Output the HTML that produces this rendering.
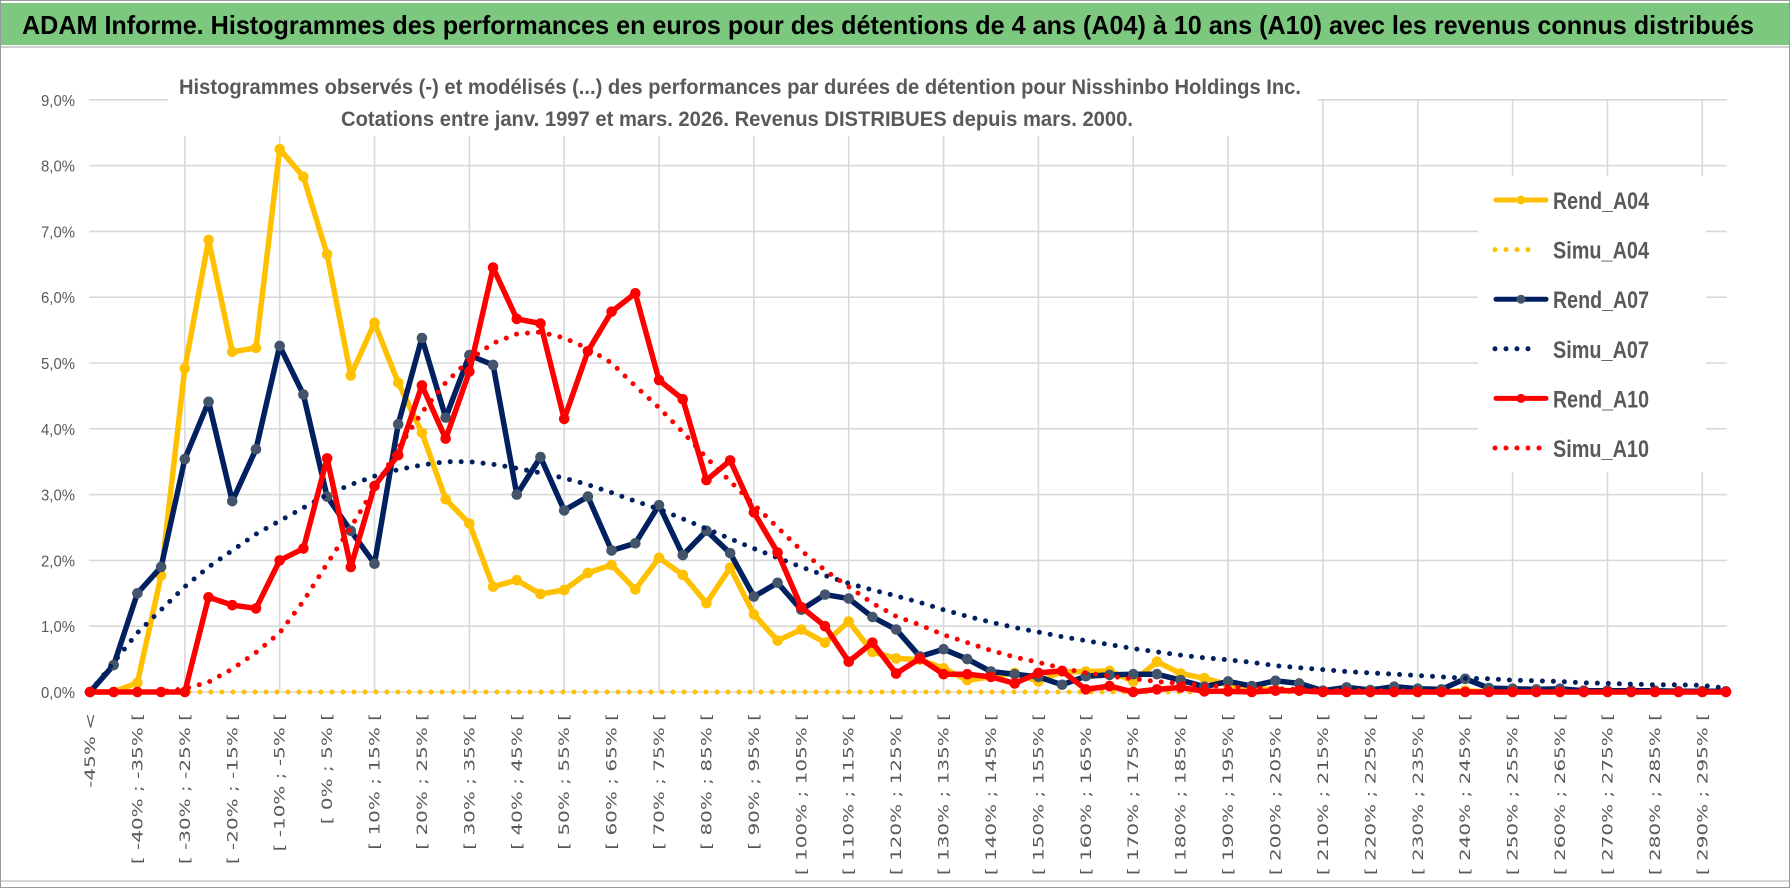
<!DOCTYPE html>
<html><head><meta charset="utf-8">
<style>
html,body{margin:0;padding:0;background:#fff;width:1790px;height:888px;overflow:hidden}
svg{display:block}
</style></head>
<body>
<svg id="chart" width="1790" height="888" viewBox="0 0 1790 888" xmlns="http://www.w3.org/2000/svg">
  <rect x="0.5" y="0.5" width="1789" height="887" fill="#fff" stroke="#9a9a9a"/>
  <rect x="1" y="3" width="1788" height="42" fill="#7dc87f"/>
  <line x1="1" y1="47" x2="1789" y2="47" stroke="#d0d0d0" stroke-width="2"/>
  <text x="22" y="34" font-family="Liberation Sans, sans-serif" font-weight="bold" font-size="26" fill="#000" textLength="1732" lengthAdjust="spacingAndGlyphs">ADAM Informe. Histogrammes des performances en euros pour des détentions de 4 ans (A04) à 10 ans (A10) avec les revenus connus distribués</text>
  <line x1="1" y1="881" x2="1789" y2="881" stroke="#d6d6d6" stroke-width="2"/>
  <g id="grid"></g>
  <rect x="168" y="64" width="1150" height="72" fill="#fff"/>
  <text x="740" y="94" text-anchor="middle" font-family="Liberation Sans, sans-serif" font-weight="bold" font-size="21" fill="#595959" textLength="1122" lengthAdjust="spacingAndGlyphs">Histogrammes observés (-) et modélisés (...) des performances par durées de détention pour Nisshinbo Holdings Inc.</text>
  <text x="737" y="126" text-anchor="middle" font-family="Liberation Sans, sans-serif" font-weight="bold" font-size="21" fill="#595959" textLength="792" lengthAdjust="spacingAndGlyphs">Cotations entre janv. 1997 et mars. 2026. Revenus DISTRIBUES depuis mars. 2000.</text>
  <g id="yaxis"></g>
  <g id="xaxis"></g>
  <g id="series"></g>
  <g id="legend"></g>
</svg>
<script>
const categories = ["-45% <","[ -45% ; -40% [","[ -40% ; -35% [","[ -35% ; -30% [","[ -30% ; -25% [","[ -25% ; -20% [","[ -20% ; -15% [","[ -15% ; -10% [","[ -10% ; -5% [","[ -5% ; 0% [","[ 0% ; 5% [","[ 5% ; 10% [","[ 10% ; 15% [","[ 15% ; 20% [","[ 20% ; 25% [","[ 25% ; 30% [","[ 30% ; 35% [","[ 35% ; 40% [","[ 40% ; 45% [","[ 45% ; 50% [","[ 50% ; 55% [","[ 55% ; 60% [","[ 60% ; 65% [","[ 65% ; 70% [","[ 70% ; 75% [","[ 75% ; 80% [","[ 80% ; 85% [","[ 85% ; 90% [","[ 90% ; 95% [","[ 95% ; 100% [","[ 100% ; 105% [","[ 105% ; 110% [","[ 110% ; 115% [","[ 115% ; 120% [","[ 120% ; 125% [","[ 125% ; 130% [","[ 130% ; 135% [","[ 135% ; 140% [","[ 140% ; 145% [","[ 145% ; 150% [","[ 150% ; 155% [","[ 155% ; 160% [","[ 160% ; 165% [","[ 165% ; 170% [","[ 170% ; 175% [","[ 175% ; 180% [","[ 180% ; 185% [","[ 185% ; 190% [","[ 190% ; 195% [","[ 195% ; 200% [","[ 200% ; 205% [","[ 205% ; 210% [","[ 210% ; 215% [","[ 215% ; 220% [","[ 220% ; 225% [","[ 225% ; 230% [","[ 230% ; 235% [","[ 235% ; 240% [","[ 240% ; 245% [","[ 245% ; 250% [","[ 250% ; 255% [","[ 255% ; 260% [","[ 260% ; 265% [","[ 265% ; 270% [","[ 270% ; 275% [","[ 275% ; 280% [","[ 280% ; 285% [","[ 285% ; 290% [","[ 290% ; 295% [","[ 295% ; 300% ["];
const yTicks = [0,1,2,3,4,5,6,7,8,9];
const yTickLabels = ["0,0%","1,0%","2,0%","3,0%","4,0%","5,0%","6,0%","7,0%","8,0%","9,0%"];
const rendA04 = [0,0,0.14,1.77,4.92,6.87,5.17,5.23,8.25,7.83,6.65,4.81,5.61,4.70,3.94,2.93,2.56,1.60,1.70,1.49,1.55,1.81,1.93,1.56,2.04,1.78,1.35,1.89,1.18,0.78,0.95,0.75,1.07,0.61,0.51,0.49,0.36,0.18,0.23,0.29,0.16,0.31,0.31,0.32,0.16,0.46,0.28,0.21,0.11,0.06,0.03,0.02,0,0.02,0,0.02,0,0,0.02,0,0,0,0,0,0,0,0,0,0,0];
const simuA04 = [0,0,0,0,0,0,0,0,0,0,0,0,0,0,0,0,0,0,0,0,0,0,0,0,0,0,0,0,0,0,0,0,0,0,0,0,0,0,0,0,0,0,0,0,0,0,0,0,0,0,0,0,0,0,0,0,0,0,0,0,0,0,0,0,0,0,0,0,0,0];
const rendA07 = [0,0.41,1.50,1.90,3.54,4.41,2.90,3.69,5.26,4.52,2.97,2.45,1.95,4.07,5.38,4.17,5.12,4.97,3.00,3.57,2.76,2.97,2.15,2.26,2.84,2.08,2.45,2.11,1.45,1.66,1.25,1.48,1.42,1.14,0.95,0.54,0.65,0.50,0.31,0.27,0.23,0.11,0.24,0.26,0.27,0.27,0.18,0.08,0.16,0.09,0.17,0.13,0.02,0.07,0.03,0.08,0.05,0.04,0.20,0.06,0.05,0.04,0.05,0.02,0.02,0.02,0.02,0.01,0.01,0.01];
const simuA07 = [0,0.45,0.9,1.25,1.6,1.9,2.15,2.4,2.6,2.8,3.0,3.15,3.28,3.38,3.45,3.5,3.5,3.46,3.4,3.33,3.25,3.15,3.03,2.9,2.78,2.63,2.48,2.33,2.18,2.04,1.9,1.77,1.65,1.55,1.46,1.36,1.25,1.15,1.06,0.98,0.91,0.84,0.78,0.72,0.66,0.61,0.56,0.52,0.49,0.45,0.40,0.37,0.34,0.31,0.29,0.27,0.25,0.23,0.21,0.2,0.18,0.17,0.16,0.14,0.13,0.12,0.11,0.11,0.1,0.06];
const rendA10 = [0,0,0,0,0,1.44,1.32,1.27,2.0,2.18,3.55,1.90,3.13,3.6,4.66,3.85,4.87,6.45,5.67,5.60,4.15,5.18,5.78,6.06,4.74,4.45,3.22,3.52,2.73,2.12,1.29,1.0,0.46,0.75,0.28,0.51,0.27,0.27,0.23,0.13,0.29,0.32,0.04,0.09,0,0.04,0.07,0.01,0.01,0,0.02,0.02,0,0,0,0,0,0,0,0,0,0,0,0,0,0,0,0,0,0];
const simuA10 = [0,0,0,0,0.05,0.15,0.35,0.6,0.9,1.38,1.95,2.5,3.1,3.7,4.25,4.7,5.05,5.3,5.44,5.47,5.38,5.22,5.0,4.65,4.32,3.95,3.56,3.2,2.85,2.5,2.15,1.85,1.6,1.35,1.15,1.02,0.87,0.75,0.63,0.53,0.45,0.36,0.29,0.24,0.2,0.16,0.13,0.1,0.08,0.06,0.05,0.04,0.03,0.03,0.02,0.02,0.01,0.01,0.01,0,0,0,0,0,0,0,0,0,0,0];

const NS = "http://www.w3.org/2000/svg";
const X0 = 90, X1 = 1726, Y0 = 692, PER = 65.8;
function xs(i){ return X0 + i * (X1 - X0) / (categories.length - 1); }
function ys(v){ return Y0 - v * PER; }
function mk(tag, attrs, parent){ const e = document.createElementNS(NS, tag); for (const k in attrs) e.setAttribute(k, attrs[k]); parent.appendChild(e); return e; }

const grid = document.getElementById('grid');
yTicks.forEach(t => {
  const l = mk('line', {x1: X0 - 1, x2: X1 + 1, y1: ys(t), y2: ys(t), stroke: '#d9d9d9', 'stroke-width': 1.6}, grid);
  
  
});
categories.forEach((c, i) => {
  if (i > 0 && i % 4 === 0) {
    const l = mk('line', {x1: xs(i), x2: xs(i), y1: ys(9), y2: Y0, stroke: '#d9d9d9', 'stroke-width': 1.6}, grid);
    
    
  }
});

const yaxis = document.getElementById('yaxis');
yTicks.forEach((t, k) => {
  const tx = mk('text', {x: 75, y: ys(t) + 6, 'text-anchor': 'end', 'font-family': 'Liberation Sans, sans-serif', 'font-size': 16, fill: '#595959', textLength: 34, lengthAdjust: 'spacingAndGlyphs'}, yaxis);
  tx.textContent = yTickLabels[k];
  
  
});

const xaxis = document.getElementById('xaxis');
categories.forEach((c, i) => {
  if (i % 2 !== 0) return;
  const tx = mk('text', {x: 0, y: 0, 'text-anchor': 'end', 'font-family': 'DejaVu Sans, sans-serif', 'font-size': 14.5, fill: '#595959', transform: 'translate(' + (xs(i) + 5) + ',713) rotate(-90) scale(1.38,1)'}, xaxis);
  tx.textContent = c;
  
  
});

const seriesG = document.getElementById('series');
function pts(arr){ return arr.map((v, i) => xs(i).toFixed(1) + ',' + ys(v).toFixed(1)).join(' '); }
function drawRend(arr, color, mfill, name){
  const g = mk('g', {}, seriesG);
  
  
  mk('polyline', {points: pts(arr), fill: 'none', stroke: color, 'stroke-width': 5.5, 'stroke-linejoin': 'round', 'stroke-linecap': 'round'}, g);
  arr.forEach((v, i) => {
    const c = mk('circle', {cx: xs(i), cy: ys(v), r: 4.8, fill: mfill, stroke: mfill}, g);
    
    
  });
}
function drawSimu(arr, color, name){
  const p = mk('polyline', {points: pts(arr), fill: 'none', stroke: color, 'stroke-width': 5, 'stroke-dasharray': '0 11', 'stroke-linecap': 'round', 'stroke-linejoin': 'round'}, seriesG);
  
  
}
drawRend(rendA04, '#ffc000', '#ffc000', 'rend-a04-line');
drawSimu(simuA04, '#ffc000', 'simu-a04-line');
drawRend(rendA07, '#002060', '#44546a', 'rend-a07-line');
drawSimu(simuA07, '#002060', 'simu-a07-line');
drawRend(rendA10, '#ff0000', '#ff0000', 'rend-a10-line');
drawSimu(simuA10, '#ff0000', 'simu-a10-line');

const legend = document.getElementById('legend');
const legBg = mk('rect', {x: 1478, y: 176, width: 228, height: 296, fill: '#fff'}, legend);


const legendNames = ['Rend_A04','Simu_A04','Rend_A07','Simu_A07','Rend_A10','Simu_A10'];
const legendColors = ['#ffc000','#ffc000','#002060','#002060','#ff0000','#ff0000'];
const legendMarkers = ['#ffc000','','#44546a','','#ff0000',''];
legendNames.forEach((n, k) => {
  const y = 200 + k * 49.6;
  const g = mk('g', {}, legend);
  
  
  if (k % 2 === 0) {
    mk('line', {x1: 1496, x2: 1546, y1: y, y2: y, stroke: legendColors[k], 'stroke-width': 5, 'stroke-linecap': 'round'}, g);
    mk('circle', {cx: 1521, cy: y, r: 4.5, fill: legendMarkers[k]}, g);
  } else {
    mk('line', {x1: 1495, x2: k === 5 ? 1546 : 1537, y1: y, y2: y, stroke: legendColors[k], 'stroke-width': 5, 'stroke-dasharray': '0 11', 'stroke-linecap': 'round'}, g);
  }
  const t = mk('text', {x: 1553, y: y + 9, 'font-family': 'Liberation Sans, sans-serif', 'font-weight': 'bold', 'font-size': 24, fill: '#595959', textLength: 96, lengthAdjust: 'spacingAndGlyphs'}, g);
  t.textContent = n;
});
</script>
</body></html>
